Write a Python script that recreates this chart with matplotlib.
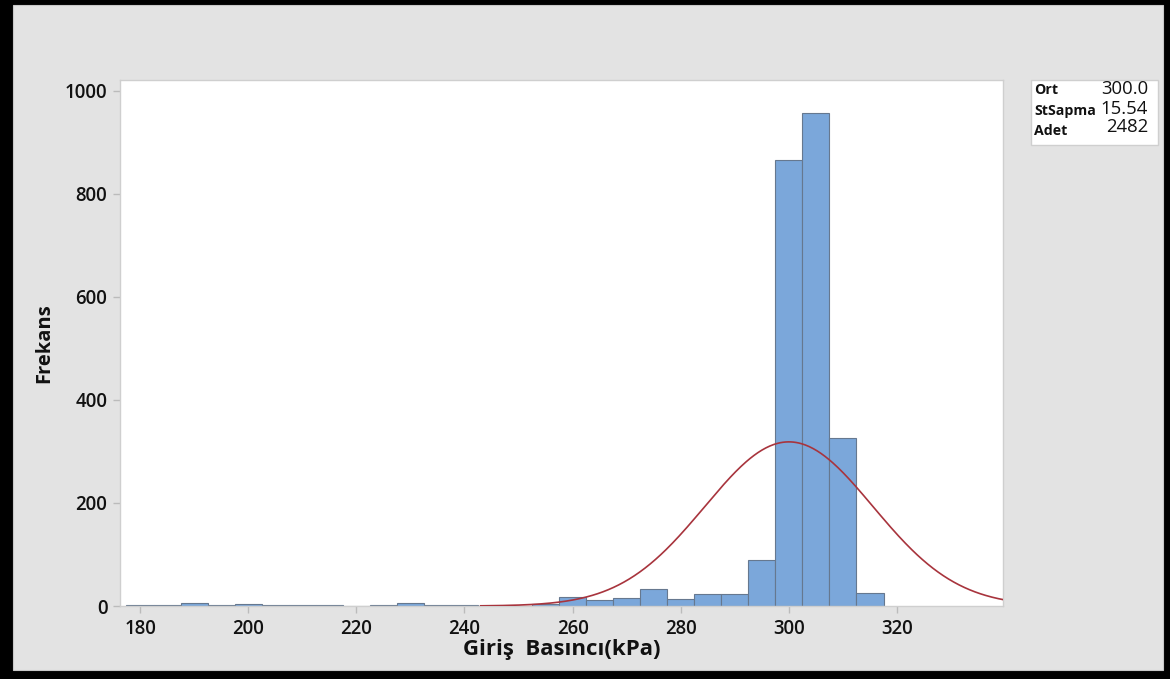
import numpy as np
import matplotlib
matplotlib.use("Agg")
import matplotlib.pyplot as plt
from matplotlib.patches import Rectangle

# ---- data ----
bin_centers = [180, 185, 190, 195, 200, 205, 210, 215, 220, 225, 230, 235, 240, 245,
               250, 255, 260, 265, 270, 275, 280, 285, 290, 295, 300, 305, 310, 315]
counts = [1, 2, 5, 1, 4, 2, 1, 1, 0, 2, 5, 1, 2, 0,
          0, 3, 17, 12, 15, 33, 14, 24, 23, 90, 865, 957, 326, 26]
bin_width = 5
mean_val = 300.0
std_val = 15.54
n_val = 2482
x_ticks = [180, 200, 220, 240, 260, 280, 300, 320]
y_ticks = [0, 200, 400, 600, 800, 1000]
x_label = "Giriş  Basıncı(kPa)"
y_label = "Frekans"
stat_names = ["Ort", "StSapma", "Adet"]
stat_values = ["300.0", "15.54", "2482"]

W, H = 1170, 679
fig = plt.figure(figsize=(W / 100, H / 100), dpi=100)
fig.patch.set_facecolor("black")
fig.patches.append(Rectangle((13 / W, 1 - 670 / H), (1163 - 13) / W, (670 - 5) / H,
                             transform=fig.transFigure, facecolor="#e3e3e3",
                             edgecolor="#c8c8c8", linewidth=0.8, zorder=-5))

ax = fig.add_axes([120 / W, 1 - 606 / H, (1003 - 120) / W, (606 - 80) / H])
ax.set_zorder(1)
ax.set_facecolor("white")
ax.bar(bin_centers, counts, width=bin_width, color="#7ba7da", edgecolor="#66788f",
       linewidth=0.8, zorder=2)

xs = np.linspace(243, 340, 400)
ys = n_val * bin_width / (std_val * np.sqrt(2 * np.pi)) * np.exp(-0.5 * ((xs - mean_val) / std_val) ** 2)
ax.plot(xs, ys, color="#a8343d", linewidth=1.2, zorder=3)

ax.set_xlim(176.3, 339.6)
ax.set_ylim(0, 1021)
ax.set_xticks(x_ticks)
ax.set_yticks(y_ticks)
for s in ax.spines.values():
    s.set_color("#cfcfcf")
    s.set_linewidth(1.0)
ax.tick_params(axis="both", colors="#bbbbbb", length=5, width=1, labelcolor="#111111",
               labelsize=13.4, pad=4)
for lab in ax.get_xticklabels() + ax.get_yticklabels():
    lab.set_fontfamily("Open Sans")
    lab.set_fontweight("semibold")
ax.set_xlabel(x_label, fontsize=16, fontweight="bold", family="Open Sans", labelpad=0,
              color="#111111")
ax.set_ylabel(y_label, fontsize=14.5, fontweight="bold", family="Open Sans", labelpad=8,
              color="#111111")

# stats box
fig.patches.append(Rectangle((1031 / W, 1 - 145 / H), (1158 - 1031) / W, (145 - 80) / H,
                             transform=fig.transFigure, facecolor="white",
                             edgecolor="#cfcfcf", linewidth=1.0, zorder=1))
label_y = [90, 111, 131]
val_y = [89, 109, 127]
for name, val, ly, vy in zip(stat_names, stat_values, label_y, val_y):
    fig.text(1034 / W, 1 - ly / H, name, fontsize=10.2, fontweight="bold", family="Open Sans",
             va="center", ha="left", color="#111111", zorder=2)
    fig.text(1148 / W, 1 - vy / H, val, fontsize=13.3, family="Open Sans",
             va="center", ha="right", color="#111111", zorder=2)

fig.savefig("out.png", dpi=100, facecolor=fig.get_facecolor())
